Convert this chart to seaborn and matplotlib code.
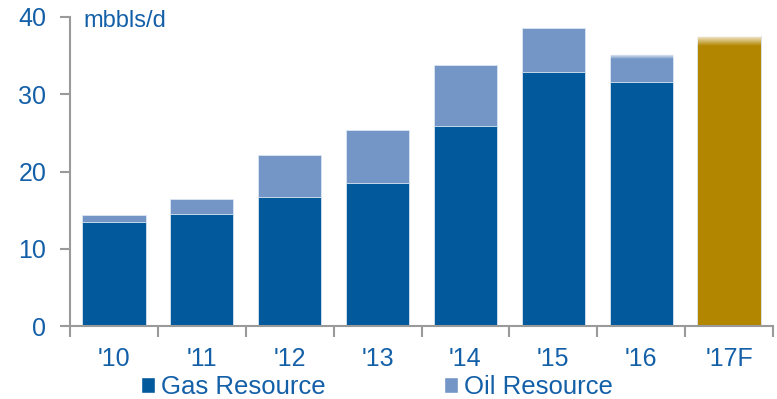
import numpy as np
import pandas as pd
import matplotlib
matplotlib.use("Agg")
import matplotlib.pyplot as plt
import seaborn as sns
from matplotlib.patches import Patch

# Production by year, mbbls/d
years = ["'10", "'11", "'12", "'13", "'14", "'15", "'16", "'17F"]
gas_resource = [13.45, 14.5, 16.7, 18.5, 25.9, 32.9, 31.6, np.nan]
total = [14.35, 16.4, 22.1, 25.4, 33.8, 38.6, 35.2, 37.5]
# Height of the faded top band on the latest bars
fade = [0, 0, 0, 0, 0, 0, 0.6, 1.3]

GAS = "#02599C"
OIL = "#7396C6"
FCST = "#B38600"
TXT = "#1460A8"
AX = "#9A9A9A"

sns.set_theme(style="white")
plt.rcParams["font.family"] = ["Liberation Sans", "DejaVu Sans"]

fig = plt.figure(figsize=(7.77, 3.99), dpi=100)
ax = fig.add_axes([70 / 777, 73 / 399, 703 / 777, 309 / 399])

df = pd.DataFrame({"year": years, "gas": gas_resource, "total": total})

sns.barplot(data=df, x="year", y="total", hue="year",
            palette=[OIL] * 7 + [FCST], legend=False, width=0.72,
            saturation=1, edgecolor="#DCE6F2", linewidth=0.6, ax=ax)
sns.barplot(data=df, x="year", y="gas", color=GAS, width=0.72,
            saturation=1, edgecolor="#DCE6F2", linewidth=0.6, ax=ax)

# Fade the tops of the most recent bars to white
ramp = np.zeros((50, 1, 4))
ramp[..., :3] = 1.0
ramp[:, 0, 3] = np.linspace(0.92, 0.0, 50)
for i, (t, f) in enumerate(zip(total, fade)):
    if f > 0:
        ax.imshow(ramp, extent=(i - 0.36, i + 0.36, t - f, t),
                  aspect="auto", origin="upper", zorder=5,
                  interpolation="bilinear")

ax.set_xlim(-0.5, len(years) - 0.5)
ax.set_ylim(0, 40)
ax.set_yticks([0, 10, 20, 30, 40])
ax.set_xlabel("")
ax.set_ylabel("")

for s in ["top", "right"]:
    ax.spines[s].set_visible(False)
for s in ["left", "bottom"]:
    ax.spines[s].set_color(AX)
    ax.spines[s].set_linewidth(1.5)

ax.set_xticks(np.arange(-0.5, len(years)), minor=True)
ax.tick_params(axis="x", which="major", length=0, pad=15,
               labelsize=18, labelcolor=TXT)
ax.tick_params(axis="x", which="minor", length=8, width=1.5,
               color=AX, direction="out", bottom=True)
ax.tick_params(axis="y", length=7, width=1.5, color=AX, left=True,
               direction="out", pad=10, labelsize=18, labelcolor=TXT)

fig.text(83 / 777, 1 - 27 / 399, "mbbls/d", color=TXT, fontsize=17,
         va="baseline", ha="left")

handles = [Patch(facecolor=GAS, label="Gas Resource"),
           Patch(facecolor=OIL, label="Oil Resource")]
fig.legend(handles=handles, loc="center", bbox_to_anchor=(377 / 777, 12 / 399),
           ncol=2, frameon=False, fontsize=18.5, handlelength=0.55,
           handleheight=0.55, handletextpad=0.23, columnspacing=4.6,
           labelcolor=TXT, borderpad=0, borderaxespad=0)

fig.savefig("out.png", dpi=100)
